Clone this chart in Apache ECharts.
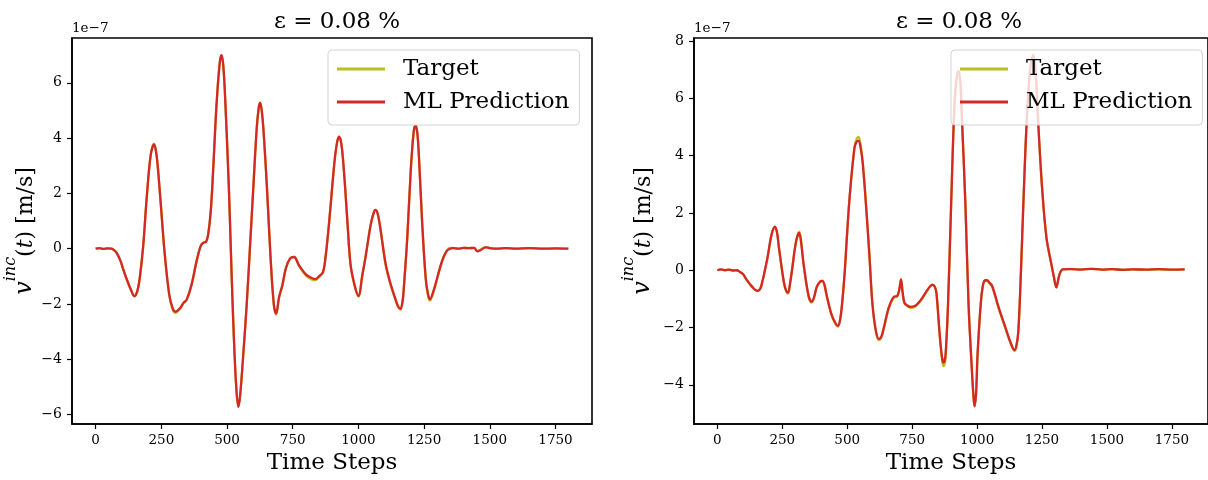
<!DOCTYPE html>
<html>
<head>
<meta charset="utf-8">
<script src="https://cdn.jsdelivr.net/npm/echarts@6/dist/echarts.min.js"></script>
<style>html,body{margin:0;padding:0;background:#fff}#c{width:1208px;height:480px}</style>
</head>
<body>
<div id="c"></div>
<script>
// ---- data (values in units of 1e-7 m/s) ----
const titleText = 'ε = 0.08 %';
const offsetText = '1e\u22127';
const xLabel = 'Time Steps';
const seriesNames = ['Target', 'ML Prediction'];
const xTicks = [0, 250, 500, 750, 1000, 1250, 1500, 1750];
const leftYTicks = [-6, -4, -2, 0, 2, 4, 6];
const rightYTicks = [-4, -2, 0, 2, 4, 6, 8];

const leftSteps = [0,15,30,45,60,70,80,95,105,120,135,147,158,168,181,194,209,222,230,238,250,263,280,293,304,321,335,346,365,384,400,410,420,428,438,447,460,472,479,486,494,507,517,526,535,543,550,562,575,588,600,613,620,626,632,639,652,665,678,687,698,711,724,740,755,774,800,820,835,850,865,875,889,908,918,926,935,945,958,970,985,1000,1015,1028,1047,1060,1066,1075,1085,1104,1123,1142,1152,1160,1168,1173,1186,1199,1210,1217,1224,1230,1243,1256,1265,1272,1288,1307,1320,1335,1345,1360,1380,1400,1420,1440,1453,1465,1484,1500,1530,1560,1600,1650,1700,1750,1799];
const leftTarget = [0,0.02,-0.01,0.01,0,-0.05,-0.15,-0.45,-0.75,-1.15,-1.5,-1.72,-1.55,-1.05,0.1,1.8,3.35,3.8,3.52,2.8,1.35,-0.2,-1.68,-2.2,-2.32,-2.18,-1.97,-1.87,-1.32,-0.47,0.1,0.22,0.25,0.5,1.35,2.8,5.2,6.7,7.0,6.6,5.2,2.2,-0.8,-3.2,-5.0,-5.72,-5.3,-3.8,-2.0,0.17,2.2,4.35,5.05,5.28,5.0,4.25,2.2,-0.2,-2.05,-2.38,-1.78,-1.32,-0.72,-0.36,-0.3,-0.62,-0.97,-1.1,-1.14,-1.03,-0.87,-0.3,1.0,3.05,3.8,4.05,3.8,2.8,1.0,-0.57,-1.32,-1.73,-0.97,-0.25,0.88,1.35,1.4,1.2,0.64,-0.6,-1.32,-1.88,-2.12,-2.2,-1.92,-1.4,0.4,2.8,4.2,4.47,4.2,3.4,0.88,-1.08,-1.7,-1.88,-1.5,-0.84,-0.42,-0.1,0.02,0.03,0.0,0.03,0.02,0.03,-0.08,-0.04,0.06,0.02,0.0,0.02,0.0,0.02,0.0,0.01,0.0];
const leftPred = [0,0.02,-0.01,0.01,0,-0.05,-0.15,-0.45,-0.75,-1.15,-1.5,-1.71,-1.55,-1.05,0.1,1.8,3.35,3.77,3.5,2.8,1.35,-0.2,-1.65,-2.15,-2.28,-2.15,-1.95,-1.85,-1.3,-0.45,0.1,0.22,0.25,0.5,1.35,2.8,5.2,6.7,7.0,6.6,5.2,2.2,-0.8,-3.2,-5.0,-5.72,-5.3,-3.8,-2.0,0.17,2.2,4.35,5.05,5.28,5.0,4.25,2.2,-0.2,-2.0,-2.35,-1.75,-1.3,-0.7,-0.35,-0.3,-0.6,-0.93,-1.05,-1.1,-1.0,-0.85,-0.3,1.0,3.05,3.8,4.05,3.8,2.8,1.0,-0.57,-1.3,-1.71,-0.95,-0.25,0.88,1.35,1.4,1.2,0.64,-0.57,-1.29,-1.85,-2.1,-2.18,-1.9,-1.4,0.4,2.8,4.2,4.47,4.2,3.4,0.88,-1.05,-1.65,-1.83,-1.45,-0.8,-0.4,-0.1,-0.02,0.02,0.0,0.03,0.02,0.03,-0.1,-0.05,0.05,0.02,0.0,0.02,0.0,0.02,0.0,0.01,0.0];

const rightSteps = [0,15,30,45,60,75,85,100,111,125,136,148,155,165,174,183,193,209,222,230,237,256,265,272,280,287,303,315,322,332,351,363,372,382,395,404,412,420,439,455,464,472,480,490,497,509,528,537,544,551,559,572,585,597,610,622,632,641,660,679,692,700,707,713,720,730,743,760,775,790,806,820,829,838,844,857,866,871,878,888,900,913,922,929,936,942,955,967,980,986,990,996,1002,1014,1023,1032,1039,1046,1058,1083,1109,1130,1144,1152,1159,1169,1178,1191,1205,1216,1225,1235,1250,1267,1286,1296,1305,1317,1330,1360,1400,1440,1480,1520,1560,1600,1650,1700,1750,1799];
const rightTarget = [0,0.03,0,0.02,-0.01,0,-0.05,-0.15,-0.31,-0.48,-0.6,-0.7,-0.72,-0.65,-0.37,0,0.44,1.26,1.5,1.3,0.79,-0.42,-0.74,-0.82,-0.47,-0.02,1.02,1.35,1.05,0.21,-0.91,-1.13,-0.97,-0.6,-0.4,-0.37,-0.5,-0.86,-1.55,-1.88,-1.97,-1.77,-1.2,-0.1,0.91,2.53,4.3,4.6,4.66,4.4,3.85,2.35,0.6,-1.15,-2.13,-2.44,-2.33,-2.03,-1.33,-0.96,-0.92,-0.7,-0.32,-0.77,-1.15,-1.25,-1.31,-1.28,-1.15,-0.97,-0.74,-0.56,-0.5,-0.58,-0.84,-2.4,-3.2,-3.35,-3.1,-1.22,2.3,5.8,6.75,6.95,6.5,5.2,2.3,-1.18,-3.5,-4.4,-4.75,-4.3,-2.9,-1.2,-0.52,-0.37,-0.37,-0.45,-0.58,-1.33,-2.03,-2.58,-2.82,-2.63,-2.1,0,2.3,5.2,7.1,7.5,7.0,5.2,2.9,1.14,0.21,-0.25,-0.6,-0.15,0.03,0.05,0.03,0.05,0.02,0.04,0.02,0.03,0.02,0.03,0.02,0.03];
const rightPred = [0,0.03,0,0.02,-0.01,0,-0.05,-0.15,-0.31,-0.48,-0.6,-0.7,-0.72,-0.65,-0.37,0,0.44,1.26,1.52,1.3,0.79,-0.42,-0.72,-0.78,-0.45,-0.02,1.0,1.3,1.0,0.21,-0.89,-1.1,-0.95,-0.6,-0.4,-0.37,-0.5,-0.84,-1.53,-1.85,-1.94,-1.75,-1.18,-0.1,0.91,2.53,4.28,4.5,4.52,4.3,3.8,2.3,0.56,-1.18,-2.1,-2.4,-2.3,-2.0,-1.3,-0.93,-0.9,-0.7,-0.32,-0.75,-1.13,-1.22,-1.28,-1.25,-1.13,-0.95,-0.72,-0.55,-0.51,-0.6,-0.84,-2.35,-3.1,-3.22,-3.0,-1.2,2.3,5.8,6.75,6.95,6.5,5.2,2.3,-1.18,-3.5,-4.4,-4.75,-4.3,-2.9,-1.18,-0.5,-0.35,-0.35,-0.42,-0.55,-1.3,-2.0,-2.55,-2.79,-2.6,-2.1,0,2.3,5.2,7.1,7.51,7.0,5.2,2.9,1.14,0.21,-0.25,-0.6,-0.15,0.03,0.04,0.02,0.05,0.02,0.04,0.01,0.03,0.02,0.04,0.02,0.03];

// ---- chart ----
const FONT = '"DejaVu Serif", "Liberation Serif", serif';
const OLIVE = '#bcbd22', RED = '#d62728';
const pairs = (xs, ys) => xs.map((x, i) => [x, ys[i]]);
const fmt = v => (v < 0 ? '\u2212' : '') + Math.abs(v);

function xAxisCfg(gi) {
  return {
    type: 'value', gridIndex: gi, min: -90, max: 1889,
    name: xLabel, nameLocation: 'middle', nameGap: 28,
    nameTextStyle: { fontFamily: FONT, fontSize: 23, color: '#000' },
    axisLine: { show: true, onZero: false, lineStyle: { color: '#000', width: 1.6 } },
    axisTick: { show: true, inside: false, length: 5, lineStyle: { color: '#000', width: 1.2 }, customValues: xTicks },
    axisLabel: { fontFamily: FONT, fontSize: 13.5, color: '#000', margin: 9, customValues: xTicks, formatter: fmt },
    splitLine: { show: false }
  };
}
function yAxisCfg(gi, min, max, ticks, gap) {
  return {
    type: 'value', gridIndex: gi, min: min, max: max,
    name: '{v|v}{s|inc}{n|(}{i|t}{n|) [m/s]}', nameLocation: 'middle', nameRotate: 90, nameGap: gap,
    nameTextStyle: {
      fontFamily: FONT, fontSize: 22, color: '#000',
      rich: {
        v: { fontFamily: FONT, fontSize: 24, fontStyle: 'italic', color: '#000', lineHeight: 34, verticalAlign: 'bottom' },
        s: { fontFamily: FONT, fontSize: 16, fontStyle: 'italic', color: '#000', lineHeight: 12, verticalAlign: 'top' },
        i: { fontFamily: FONT, fontSize: 22, fontStyle: 'italic', color: '#000', lineHeight: 34, verticalAlign: 'bottom' },
        n: { fontFamily: FONT, fontSize: 22, color: '#000', lineHeight: 34, verticalAlign: 'bottom' }
      }
    },
    axisLine: { show: true, onZero: false, lineStyle: { color: '#000', width: 1.6 } },
    axisTick: { show: true, inside: false, length: 5, lineStyle: { color: '#000', width: 1.2 }, customValues: ticks },
    axisLabel: { fontFamily: FONT, fontSize: 14, color: '#000', margin: 10, customValues: ticks, formatter: fmt },
    splitLine: { show: false }
  };
}
function lineSeries(name, gi, xs, ys, color, z) {
  return {
    name: name, type: 'line', xAxisIndex: gi, yAxisIndex: gi,
    data: pairs(xs, ys), showSymbol: false, smooth: 0.35, z: z,
    lineStyle: { color: color, width: 2.3 }, itemStyle: { color: color },
    emphasis: { disabled: true }, animation: false
  };
}
function legendCfg(left) {
  return {
    orient: 'vertical', left: left, top: 50,
    data: seriesNames, icon: 'rect', itemWidth: 48, itemHeight: 3, itemGap: 7,
    padding: [6, 10, 10, 9],
    backgroundColor: 'rgba(255,255,255,0.8)', borderColor: '#d3d3d3', borderWidth: 1, borderRadius: 4,
    textStyle: { fontFamily: FONT, fontSize: 23, color: '#000', lineHeight: 26, padding: [0, 0, 0, 13] },
    selectedMode: false, z: 10
  };
}

const chart = echarts.init(document.getElementById('c'), null, { renderer: 'canvas' });
chart.setOption({
  backgroundColor: '#fff',
  animation: false,
  title: [
    { text: titleText, left: 332, top: 6, textAlign: 'center', textStyle: { fontFamily: FONT, fontSize: 23, fontWeight: 'normal', color: '#000' } },
    { text: titleText, left: 954, top: 6, textAlign: 'center', textStyle: { fontFamily: FONT, fontSize: 23, fontWeight: 'normal', color: '#000' } }
  ],
  legend: [legendCfg(328), legendCfg(951)],
  grid: [
    { left: 72, top: 38, width: 520, height: 387, show: true, borderColor: '#000', borderWidth: 1.6, backgroundColor: 'transparent', containLabel: false },
    { left: 694, top: 38, width: 521, height: 387, show: true, borderColor: '#000', borderWidth: 1.6, backgroundColor: 'transparent', containLabel: false }
  ],
  xAxis: [xAxisCfg(0), xAxisCfg(1)],
  yAxis: [yAxisCfg(0, -6.34, 7.62, leftYTicks, 35), yAxisCfg(1, -5.37, 8.11, rightYTicks, 39)],
  graphic: [
    { type: 'text', left: 72, top: 21, style: { text: offsetText, fontFamily: FONT, fontSize: 13.5, fill: '#000' } },
    { type: 'text', left: 694, top: 21, style: { text: offsetText, fontFamily: FONT, fontSize: 13.5, fill: '#000' } }
  ],
  series: [
    lineSeries('Target', 0, leftSteps, leftTarget, OLIVE, 2),
    lineSeries('ML Prediction', 0, leftSteps, leftPred, RED, 3),
    lineSeries('Target', 1, rightSteps, rightTarget, OLIVE, 2),
    lineSeries('ML Prediction', 1, rightSteps, rightPred, RED, 3)
  ]
});
</script>
</body>
</html>
